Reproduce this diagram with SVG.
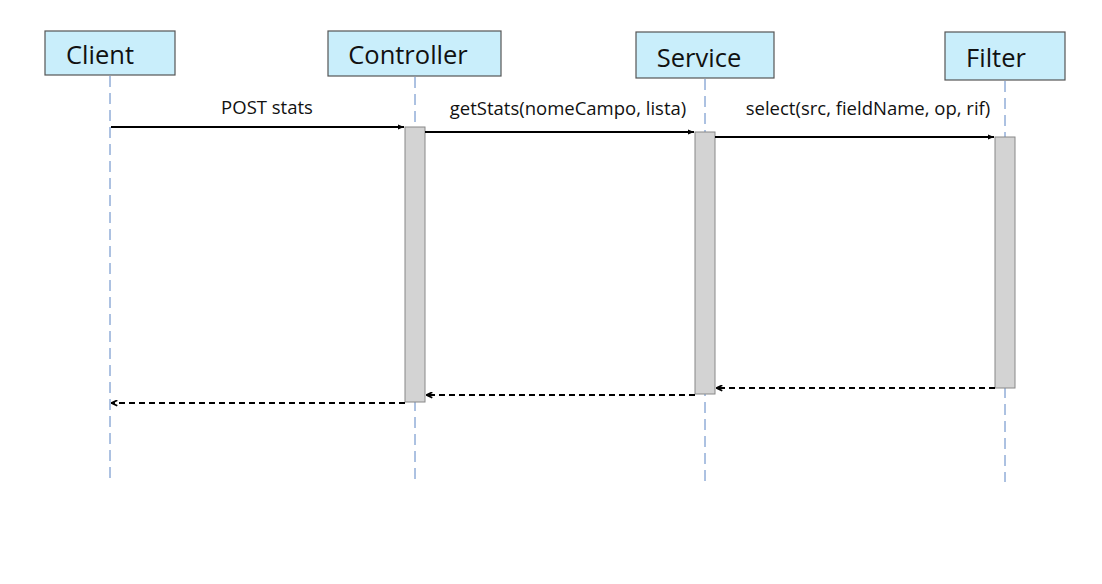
<svg xmlns="http://www.w3.org/2000/svg" width="1102" height="584" viewBox="0 0 1102 584">
<defs>
<style>
.box{fill:#c9eefb;stroke:#555;stroke-width:1.2}
.title{font-family:"Open Sans","Noto Sans",sans-serif;font-size:25.5px;fill:#111;text-anchor:middle}
.lbl{font-family:"Open Sans","Noto Sans",sans-serif;font-size:18.5px;fill:#111;text-anchor:middle}
.life{stroke:#5b84c4;stroke-width:1;stroke-dasharray:11,6}
.act{fill:#d3d3d3;stroke:#888;stroke-width:1}
.msg{stroke:#000;stroke-width:2;fill:none}
.ret{stroke:#000;stroke-width:2;fill:none;stroke-dasharray:6,4}
</style>
<marker id="ah" viewBox="0 0 10 10" refX="10" refY="5" markerWidth="6" markerHeight="6" orient="auto" markerUnits="userSpaceOnUse">
<path d="M0,1 L10,5 L0,9 z" fill="#000"/>
</marker>
<marker id="oh" viewBox="0 0 10 10" refX="10" refY="5" markerWidth="7" markerHeight="7" orient="auto" markerUnits="userSpaceOnUse">
<path d="M1,1 L9,5 L1,9" fill="none" stroke="#000" stroke-width="2.5"/>
</marker>
</defs>
<rect width="1102" height="584" fill="#fff"/>
<g id="lifelines">
<line class="life" x1="110" y1="76" x2="110" y2="482"/>
<line class="life" x1="415" y1="77" x2="415" y2="482"/>
<line class="life" x1="705" y1="79" x2="705" y2="482"/>
<line class="life" x1="1005" y1="81" x2="1005" y2="482"/>
</g>
<g id="client"><rect class="box" x="45" y="31" width="130" height="44"/><text class="title" x="100" y="64">Client</text></g>
<g id="controller"><rect class="box" x="328" y="31" width="173" height="45"/><text class="title" x="408" y="64">Controller</text></g>
<g id="service"><rect class="box" x="636" y="32" width="138" height="46"/><text class="title" x="699" y="67">Service</text></g>
<g id="filter"><rect class="box" x="945" y="32" width="120" height="48"/><text class="title" x="996" y="67">Filter</text></g>
<g id="activations">
<rect class="act" x="405" y="127" width="20" height="275"/>
<rect class="act" x="695" y="132" width="20" height="262"/>
<rect class="act" x="995" y="137" width="20" height="251"/>
</g>
<g id="connectors">
<line class="msg" x1="111" y1="127" x2="404" y2="127" marker-end="url(#ah)"/>
<line class="msg" x1="425" y1="132" x2="694" y2="132" marker-end="url(#ah)"/>
<line class="msg" x1="715" y1="137" x2="994" y2="137" marker-end="url(#ah)"/>
<line class="ret" x1="995" y1="388" x2="716" y2="388" marker-end="url(#oh)"/>
<line class="ret" x1="695" y1="395" x2="426" y2="395" marker-end="url(#oh)"/>
<line class="ret" x1="405" y1="403" x2="111" y2="403" marker-end="url(#oh)"/>
</g>
<g id="labels">
<text class="lbl" x="267" y="114">POST stats</text>
<text class="lbl" x="568" y="115">getStats(nomeCampo, lista)</text>
<text class="lbl" x="868" y="115">select(src, fieldName, op, rif)</text>
</g>
</svg>
